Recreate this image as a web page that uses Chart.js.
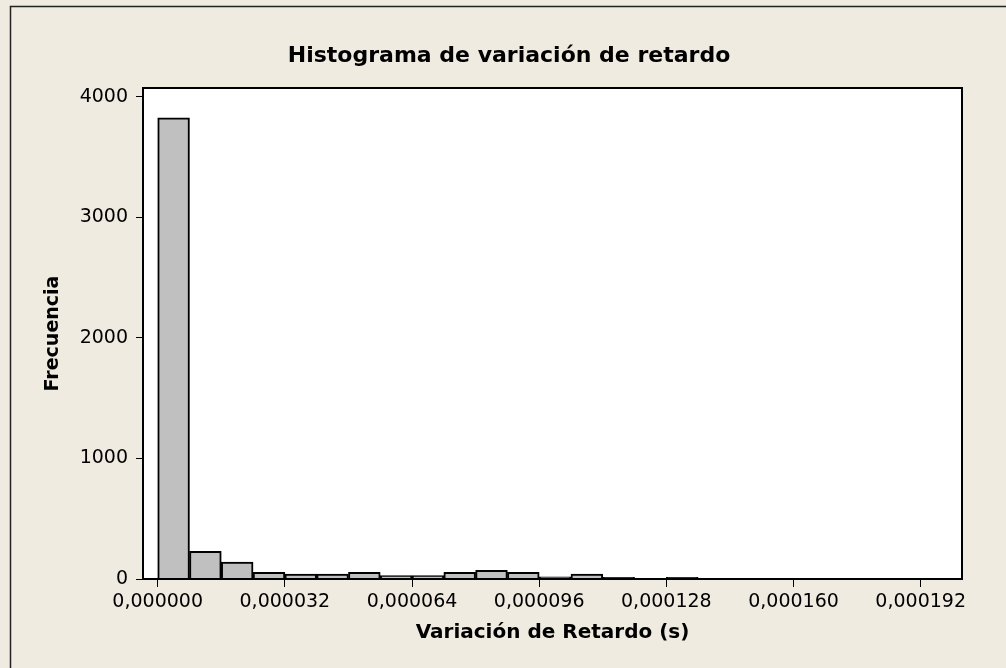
<!DOCTYPE html>
<html>
<head>
<meta charset="utf-8">
<title>Histograma de variación de retardo</title>
<script src="https://cdn.jsdelivr.net/npm/chart.js@4"></script>
<style>
    html, body { margin: 0; padding: 0; background: #efebe1; }
    #wrap { width: 1006px; height: 668px; }
</style>
</head>
<body>
<div id="wrap"><canvas id="hist" width="1006" height="668"></canvas></div>
<script>
// ------------------- DATA -------------------
const binWidth = 0.000008;
const binStarts = [
    0.000000, 0.000008, 0.000016, 0.000024, 0.000032, 0.000040, 0.000048,
    0.000056, 0.000064, 0.000072, 0.000080, 0.000088, 0.000096, 0.000104,
    0.000112, 0.000120, 0.000128, 0.000136, 0.000144, 0.000152, 0.000160,
    0.000168, 0.000176, 0.000184, 0.000192
];
const frequencies = [
    3825, 229, 141, 55, 41, 41, 55,
    28, 28, 55, 72, 55, 17, 41,
    13, 0, 13, 2, 1, 1, 1,
    1, 1, 1, 1
];
const xTickValues = [0, 0.000032, 0.000064, 0.000096, 0.000128, 0.000160, 0.000192];
const yTickValues = [0, 1000, 2000, 3000, 4000];

const chartTitle = "Histograma de variación de retardo";
const xTitle = "Variación de Retardo (s)";
const yTitle = "Frecuencia";

// ------------------- PLUGINS -------------------
const frame = {
    id: "frame",
    beforeDraw(chart) {
        const ctx = chart.ctx;
        const a = chart.chartArea;
        ctx.save();
        ctx.fillStyle = "#efebe1";
        ctx.fillRect(0, 0, chart.width, chart.height);
        ctx.strokeStyle = "#222";
        ctx.lineWidth = 1.5;
        ctx.strokeRect(10.5, 6.5, chart.width + 20, chart.height + 20);
        ctx.fillStyle = "#ffffff";
        ctx.fillRect(a.left, a.top, a.right - a.left, a.bottom - a.top);

        ctx.fillStyle = "#000";
        ctx.font = "bold 22px 'DejaVu Sans'";
        ctx.textAlign = "center";
        ctx.textBaseline = "middle";
        ctx.fillText(chartTitle, 509, 56);
        ctx.restore();
    },
    afterDraw(chart) {
        const ctx = chart.ctx;
        const a = chart.chartArea;
        ctx.save();
        ctx.strokeStyle = "#000";
        ctx.lineWidth = 2;
        ctx.strokeRect(a.left, a.top, a.right - a.left, a.bottom - a.top);
        ctx.restore();
    }
};

// ------------------- CHART -------------------
const points = binStarts.map((s, i) => ({ x: s + binWidth / 2, y: frequencies[i] }));

new Chart(document.getElementById("hist"), {
    type: "bar",
    data: {
        datasets: [{
            data: points,
            backgroundColor: "#c0c0c0",
            borderColor: "#000",
            borderWidth: 2,
            barPercentage: 1,
            categoryPercentage: 1
        }]
    },
    options: {
        responsive: false,
        animation: false,
        layout: { padding: { top: 88, right: 44, bottom: 0, left: 0 } },
        plugins: {
            legend: { display: false },
            tooltip: { enabled: false }
        },
        scales: {
            x: {
                type: "linear",
                offset: false,
                min: -0.0000037,
                max: 0.0002024,
                afterBuildTicks: s => { s.ticks = xTickValues.map(v => ({ value: v })); },
                afterFit: s => { s.height = 89; },
                border: { display: false },
                grid: {
                    offset: false,
                    drawOnChartArea: false,
                    color: "#000",
                    tickLength: 8
                },
                ticks: {
                    padding: 4,
                    maxRotation: 0,
                    color: "#000",
                    font: { family: "'DejaVu Sans'", size: 19 },
                    callback: v => v.toFixed(6).replace(".", ",")
                },
                title: {
                    display: true,
                    text: xTitle,
                    color: "#000",
                    font: { family: "'DejaVu Sans'", size: 20, weight: "bold" },
                    padding: { top: 0, bottom: 23 }
                }
            },
            y: {
                min: 0,
                max: 4072,
                afterBuildTicks: s => { s.ticks = yTickValues.map(v => ({ value: v })); },
                afterFit: s => { s.width = 143; },
                border: { display: false },
                grid: {
                    drawOnChartArea: false,
                    color: "#000",
                    tickLength: 7
                },
                ticks: {
                    padding: 8,
                    color: "#000",
                    font: { family: "'DejaVu Sans'", size: 19 },
                    callback: v => String(v)
                },
                title: {
                    display: true,
                    text: yTitle,
                    color: "#000",
                    font: { family: "'DejaVu Sans'", size: 19, weight: "bold" },
                    padding: { top: 41.6, bottom: 0 }
                }
            }
        }
    },
    plugins: [frame]
});
</script>
</body>
</html>
